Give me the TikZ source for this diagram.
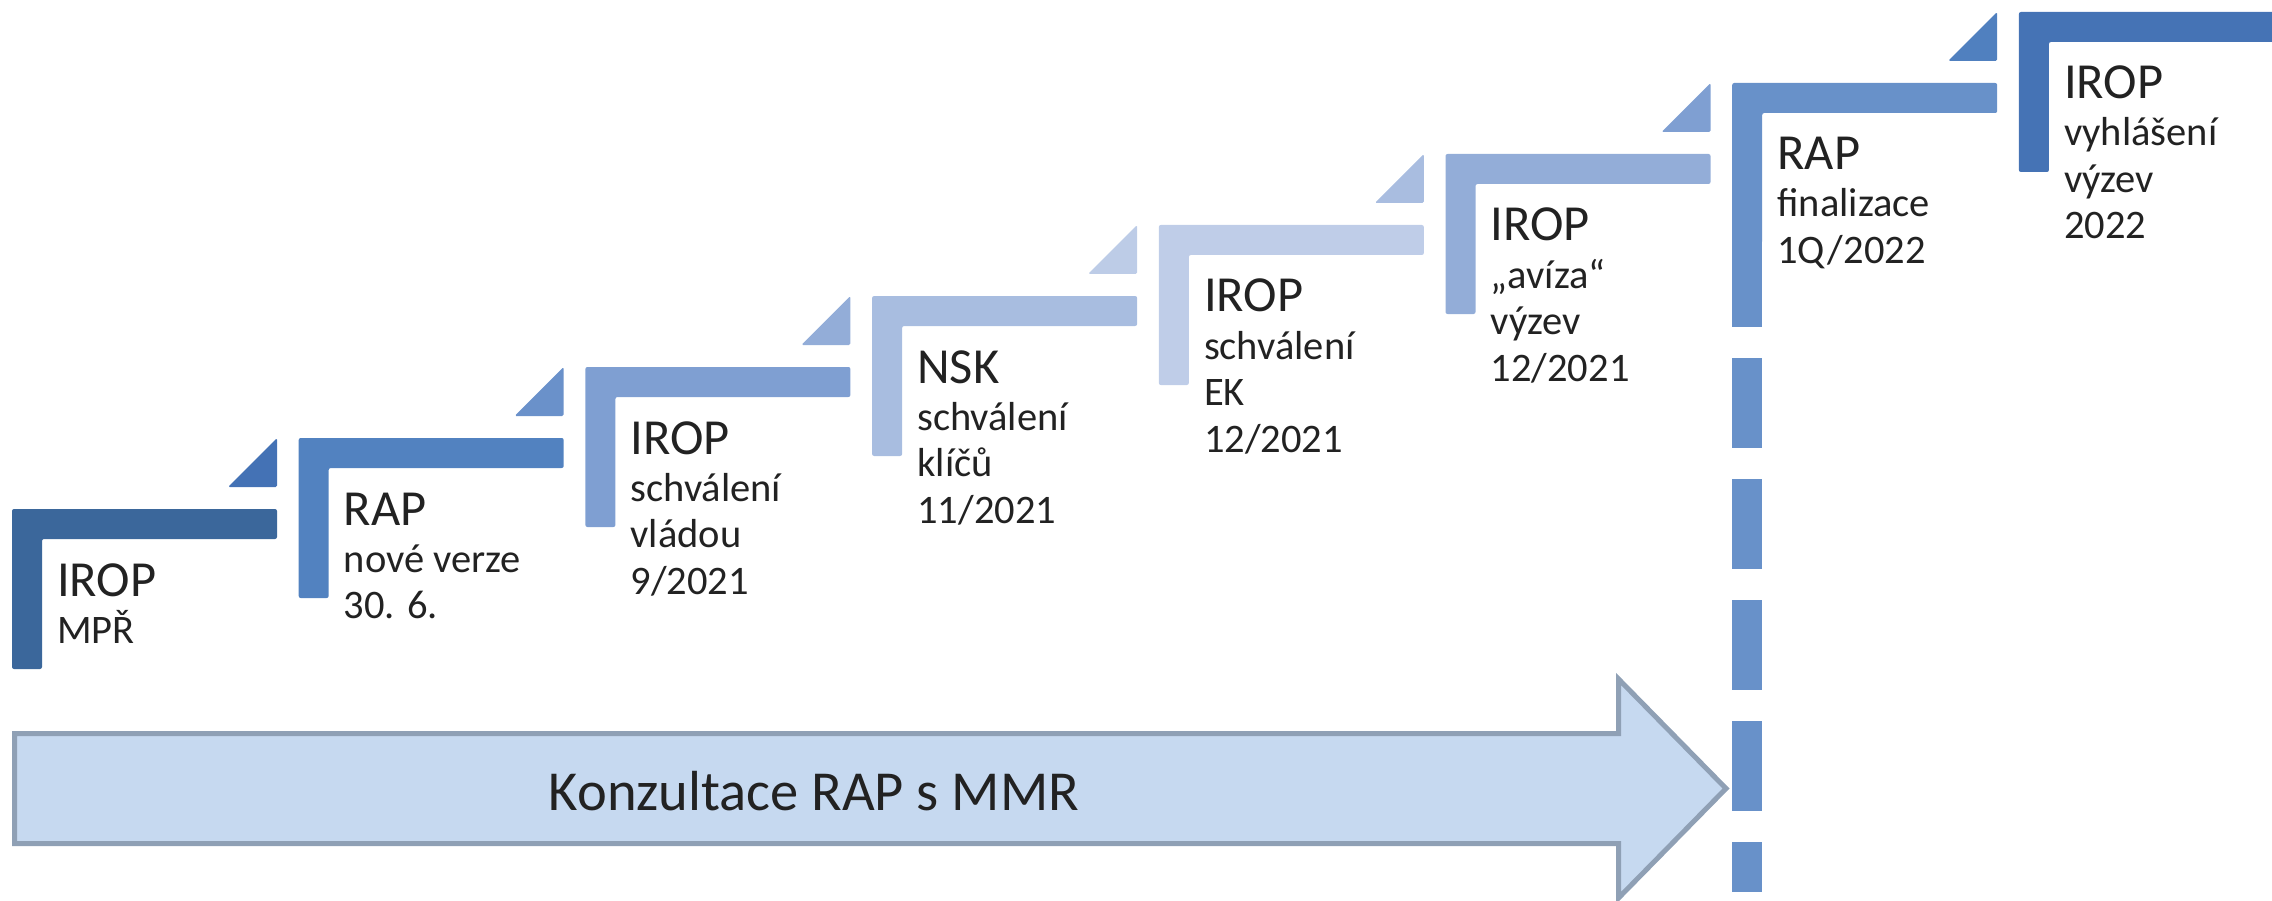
\documentclass[tikz,border=0pt]{standalone}
\usepackage{fontspec}
\setmainfont{Carlito}
\definecolor{txt}{HTML}{222222}
\definecolor{sA}{HTML}{3B679B}
\definecolor{tA}{HTML}{4472B5}
\definecolor{sB}{HTML}{5282C0}
\definecolor{tB}{HTML}{6A91CA}
\definecolor{sC}{HTML}{7F9FD2}
\definecolor{tC}{HTML}{93ADD8}
\definecolor{sD}{HTML}{A8BDE0}
\definecolor{tD}{HTML}{BDCCE7}
\definecolor{sE}{HTML}{BFCDE8}
\definecolor{tE}{HTML}{A9BDE0}
\definecolor{sF}{HTML}{93ADD8}
\definecolor{tF}{HTML}{7F9FD2}
\definecolor{sG}{HTML}{6891C9}
\definecolor{tG}{HTML}{5080BF}
\definecolor{sH}{HTML}{4573B5}
\definecolor{arrfill}{HTML}{C6D9F0}
\definecolor{arrline}{HTML}{8FA0B5}
\begin{document}
\begin{tikzpicture}[x=1pt,y=-1pt,
  head/.style={font=\fontsize{50.5}{55}\selectfont, text=txt, inner sep=0pt, anchor=base west},
  sub/.style={font=\fontsize{40.5}{44}\selectfont, text=txt, inner sep=0pt, anchor=base west},
  big/.style={font=\fontsize{56.5}{60}\selectfont, text=txt, inner sep=0pt, anchor=base},
  stepshape/.style={rounded corners=2pt},
]
\useasboundingbox (0,0) rectangle (2272,901);
\clip (0,0) rectangle (2272,901);
% steps (L-shapes)
\foreach \i/\sc in {0/sA,1/sB,2/sC,3/sD,4/sE,5/sF,6/sG,7/sH} {
  \pgfmathsetmacro\L{12+286.7*\i}
  \pgfmathsetmacro\T{509-71*\i}
  \fill[fill=\sc, stepshape] (\L,\T) -- ++(265,0) -- ++(0,30) -- ++(-235,0) -- ++(0,130) -- ++(-30,0) -- cycle;
}
% triangles
\foreach \i/\tc in {0/tA,1/tB,2/tC,3/tD,4/tE,5/tF,6/tG} {
  \pgfmathsetmacro\R{12+286.7*\i+265}
  \pgfmathsetmacro\Tn{509-71*(\i+1)}
  \fill[fill=\tc, rounded corners=1.5pt] (\R-49,\Tn+49) -- (\R,\Tn) -- (\R,\Tn+49) -- cycle;
}
% dashed continuation of step 7
\foreach \y in {237,358,479,600,721} {
  \fill[sG] (1732.2,\y) rectangle ++(30,90);
}
\fill[sG] (1732.2,842) rectangle (1762.2,892);
% big arrow
\draw[fill=arrfill, draw=arrline, line width=5pt, line join=miter]
  (14.5,733.5) -- (1618.5,733.5) -- (1618.5,679) -- (1726,788.5) -- (1618.5,898) -- (1618.5,843.5) -- (14.5,843.5) -- cycle;
\node[big] (arrtxt) at (814,810) {Konzultace RAP s MMR};
% texts
\node[head] (h0) at (57,596) {IROP};
\node[sub] (a0) at (57,643) {MPŘ};
\node[head] (h1) at (343.7,525) {RAP};
\node[sub] (a1) at (343.7,572) {nové verze};
\node[sub] (b1) at (343.7,618.5) {30. 6.};
\node[head] (h2) at (630.4,454) {IROP};
\node[sub] (a2) at (630.4,501) {schválení};
\node[sub] (b2) at (630.4,547.5) {vládou};
\node[sub] (c2) at (630.4,594) {9/2021};
\node[head] (h3) at (917.1,383) {NSK};
\node[sub] (a3) at (917.1,430) {schválení};
\node[sub] (b3) at (917.1,476.5) {klíčů};
\node[sub] (c3) at (917.1,523) {11/2021};
\node[head] (h4) at (1203.8,312) {IROP};
\node[sub] (a4) at (1203.8,359) {schválení};
\node[sub] (b4) at (1203.8,405.5) {EK};
\node[sub] (c4) at (1203.8,452) {12/2021};
\node[head] (h5) at (1490.5,241) {IROP};
\node[sub] (a5) at (1490.5,288) {„avíza“};
\node[sub] (b5) at (1490.5,334.5) {výzev};
\node[sub] (c5) at (1490.5,381) {12/2021};
\node[head] (h6) at (1777.2,170) {RAP};
\node[sub] (a6) at (1777.2,217) {finalizace};
\node[sub] (b6) at (1777.2,263.5) {1Q/2022};
\node[head] (h7) at (2063.9,99) {IROP};
\node[sub] (a7) at (2063.9,146) {vyhlášení};
\node[sub] (b7) at (2063.9,192.5) {výzev};
\node[sub] (c7) at (2063.9,239) {2022};
\end{tikzpicture}
\end{document}
